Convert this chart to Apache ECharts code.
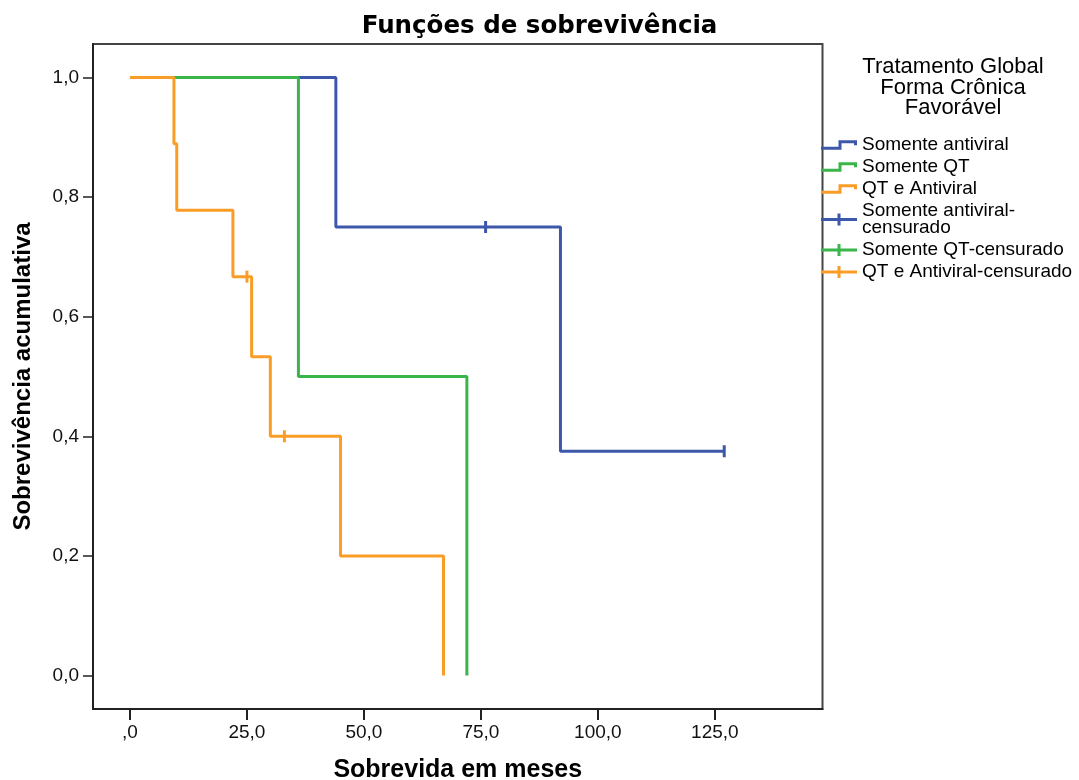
<!DOCTYPE html>
<html>
<head>
<meta charset="utf-8">
<script src="https://cdn.jsdelivr.net/npm/echarts@6/dist/echarts.min.js"></script>
<style>
  html, body { margin: 0; padding: 0; background: #ffffff; }
  #chart { width: 1079px; height: 780px; }
</style>
</head>
<body>
<div id="chart"></div>
<script>
// Kaplan-Meier survival steps: [months, cumulative survival]
const antiviralSteps = [[0, 1], [44, 0.75], [92, 0.375], [127, 0.375]];
const qtSteps = [[0, 1], [36, 0.5], [72, 0]];
const qtAntiviralSteps = [[0, 1], [9.4, 0.889], [10, 0.778], [22, 0.667], [26, 0.533], [30, 0.4], [45, 0.2], [67, 0]];

// Censored observations: [months, cumulative survival]
const antiviralCensored = [[76, 0.75], [127, 0.375]];
const qtCensored = [];
const qtAntiviralCensored = [[25, 0.667], [33, 0.4]];

const groupNames = ['Somente antiviral', 'Somente QT', 'QT e Antiviral'];
const censoredNames = ['Somente antiviral-censurado', 'Somente QT-censurado', 'QT e Antiviral-censurado'];
const groupColors = ['#3d58aa', '#3ab54a', '#fa9d26'];

const xTicks = [0, 25, 50, 75, 100, 125];
const yTicks = [0, 0.2, 0.4, 0.6, 0.8, 1.0];

const chartTitle = 'Funções de sobrevivência';
const legendTitle = ['Tratamento Global', 'Forma Crônica', 'Favorável'];
const xName = 'Sobrevida em meses';
const yName = 'Sobrevivência acumulativa';

// Legend glyphs: a small step line and a censor cross
const stepIcon = 'path://M0,6.5 L17.5,6.5 L17.5,0 L36,0 L36,5 L33,5 L33,3 L20.5,3 L20.5,9.5 L0,9.5 Z';
const crossIcon = 'path://M0,4.5 L36,4.5 L36,7.5 L0,7.5 Z M16.5,0 L19.5,0 L19.5,12 L16.5,12 Z';

const commaNum = v => v.toFixed(1).replace('.', ',');

const stepSeries = [antiviralSteps, qtSteps, qtAntiviralSteps].map((d, i) => ({
  name: groupNames[i],
  type: 'line',
  step: 'end',
  data: d,
  symbol: 'none',
  color: groupColors[i],
  lineStyle: { width: 3, color: groupColors[i] },
  z: 2 + i
}));

const censorSeries = [antiviralCensored, qtCensored, qtAntiviralCensored].map((d, i) => ({
  name: censoredNames[i],
  type: 'scatter',
  data: d,
  symbol: 'rect',
  symbolSize: [3, 12],
  color: groupColors[i],
  itemStyle: { color: groupColors[i], opacity: 1 },
  z: 6
}));

const chart = echarts.init(document.getElementById('chart'), null, { renderer: 'canvas' });

chart.setOption({
  animation: false,
  backgroundColor: '#ffffff',
  title: {
    text: chartTitle,
    left: 'center',
    top: 9,
    textStyle: { fontFamily: 'DejaVu Sans', fontWeight: 'bold', fontSize: 24.5, color: '#000' }
  },
  graphic: [{
    type: 'text',
    x: 953,
    y: 57,
    style: {
      text: legendTitle.join('\n'),
      fill: '#000',
      fontFamily: 'Liberation Sans',
      fontSize: 22,
      lineHeight: 20.5,
      align: 'center',
      verticalAlign: 'top'
    }
  }],
  legend: {
    orient: 'vertical',
    left: 821,
    top: 135.5,
    padding: 0,
    itemGap: 3,
    itemWidth: 36,
    itemHeight: 12,
    selectedMode: false,
    itemStyle: { borderWidth: 0, opacity: 1 },
    textStyle: { fontFamily: 'Liberation Sans', fontSize: 19, lineHeight: 17, color: '#000' },
    formatter: name => name === censoredNames[0] ? 'Somente antiviral-\ncensurado' : name,
    data: groupNames.map(n => ({ name: n, icon: stepIcon }))
      .concat(censoredNames.map(n => ({ name: n, icon: crossIcon })))
  },
  grid: {
    left: 93,
    right: 256.5,
    top: 44,
    bottom: 71,
    outerBoundsMode: 'none',
    show: true,
    borderColor: '#444',
    borderWidth: 2,
    backgroundColor: '#fff'
  },
  xAxis: {
    type: 'value',
    min: -7.9,
    max: 148,
    name: xName,
    nameLocation: 'middle',
    nameGap: 49,
    nameTextStyle: { fontFamily: 'Liberation Sans', fontWeight: 'bold', fontSize: 25, color: '#000' },
    axisLine: { show: true, onZero: false, lineStyle: { color: '#222', width: 2 } },
    axisTick: { show: true, length: 11, lineStyle: { color: '#222', width: 2 }, customValues: xTicks },
    axisLabel: {
      customValues: xTicks,
      margin: 14,
      fontFamily: 'Liberation Sans',
      fontSize: 19,
      color: '#111',
      formatter: v => (v === 0 ? ',0' : commaNum(v))
    },
    splitLine: { show: false }
  },
  yAxis: {
    type: 'value',
    min: -0.056,
    max: 1.056,
    name: yName,
    nameLocation: 'middle',
    nameGap: 58,
    nameTextStyle: { fontFamily: 'Liberation Sans', fontWeight: 'bold', fontSize: 24, color: '#000' },
    axisLine: { show: true, onZero: false, lineStyle: { color: '#222', width: 2 } },
    axisTick: { show: true, length: 10, lineStyle: { color: '#222', width: 1.5 }, customValues: yTicks },
    axisLabel: {
      customValues: yTicks,
      margin: 14,
      fontFamily: 'Liberation Sans',
      fontSize: 19,
      color: '#111',
      formatter: v => commaNum(v)
    },
    splitLine: { show: false }
  },
  series: stepSeries.concat(censorSeries)
});
</script>
</body>
</html>
